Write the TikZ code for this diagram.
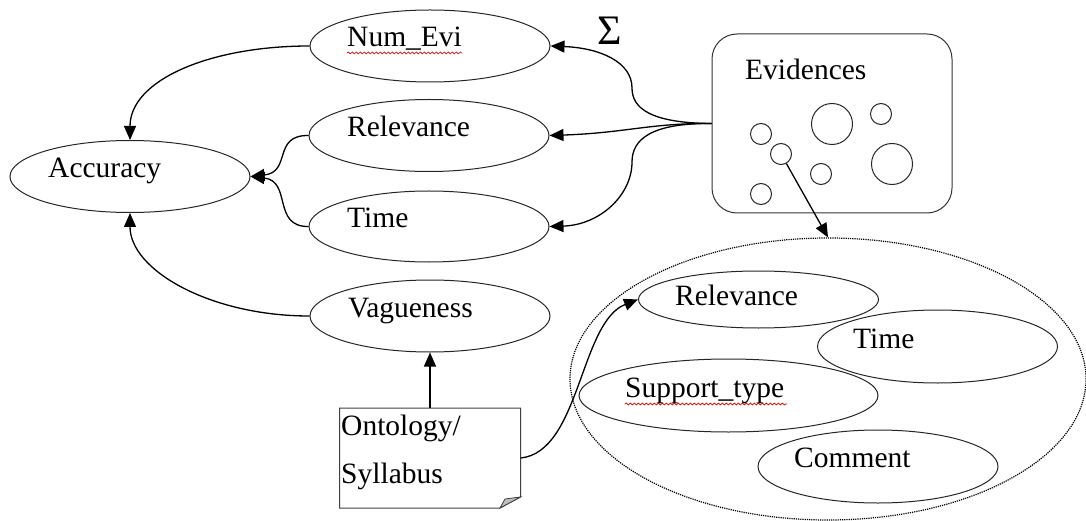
\documentclass[tikz,border=0pt]{standalone}
\usepackage{fontspec}
\setmainfont{Liberation Serif}
\usetikzlibrary{arrows.meta,decorations.pathmorphing,shapes.geometric}
\begin{document}
\begin{tikzpicture}[x=1pt,y=-1pt,
  ell/.style={draw=black!85, line width=1pt, ellipse, minimum width=240pt, minimum height=72pt, inner sep=0pt},
  lbl/.style={anchor=base west, inner sep=0pt, font=\fontsize{29.5}{34}\selectfont},
  arr/.style={draw=black, line width=1.3pt, -{Triangle[length=14pt,width=12pt]}},
  dot/.style={draw=black!85, line width=1pt, circle, inner sep=0pt},
  squig/.style={draw=red!85!black, line width=0.7pt, decorate, decoration={snake, amplitude=1pt, segment length=4pt}}]
\useasboundingbox (0,0) rectangle (1086,521);

% left ellipses
\node[ell] (numevi) at (430,46) {};
\node[ell] (rel) at (429,135.5) {};
\node[ell, minimum height=71pt] (time) at (429,226.5) {};
\node[ell] (acc) at (130,176.5) {};
\node[ell] (vag) at (430,316) {};

% big dotted ellipse and inner ellipses
\node[draw=black, line width=1.2pt, dash pattern=on 1.2pt off 1pt, ellipse, minimum width=516pt, minimum height=282pt, inner sep=0pt] (big) at (828,379) {};
\node[ell, minimum height=57pt] (irel) at (758.5,299.5) {};
\node[ell, minimum height=73pt] (itime) at (937.5,346.5) {};
\node[ell, minimum width=299pt, minimum height=73pt] (isup) at (728.5,395.5) {};
\node[ell, minimum height=73pt] (icom) at (878,466.5) {};

% evidences box
\node[draw=black!80, line width=1pt, rounded corners=25pt, minimum width=240pt, minimum height=179pt, inner sep=0pt] (evid) at (832,123.5) {};
\node[dot, minimum size=21pt] (c1) at (761,134) {};
\node[dot, minimum size=41pt] (c2) at (832,124) {};
\node[dot, minimum size=21pt] (c3) at (881,114) {};
\node[dot, minimum size=21pt] (c4) at (781,154) {};
\node[dot, minimum size=21pt] (c5) at (821,174) {};
\node[dot, minimum size=41pt] (c6) at (892,164) {};
\node[dot, minimum size=21pt] (c7) at (761,194) {};

% ontology note
\node[minimum width=181pt, minimum height=100pt, inner sep=0pt] (onto) at (430,458) {};
\draw[line width=1pt, black!75] (339.5,408) -- (520.5,408) -- (520.5,497) -- (500,508) -- (339.5,508) -- cycle;
\filldraw[fill=black!25, draw=black!75, line width=0.8pt] (520.5,497) -- (500,508) -- (505,499) -- cycle;

% labels
\node[lbl] (tnum) at (347,46.5) {Num\_Evi};
\node[lbl] (trel) at (347,137) {Relevance};
\node[lbl] (ttime) at (347,228) {Time};
\node[lbl] (tacc) at (48,178) {Accuracy};
\node[lbl] (tvag) at (348,317) {Vagueness};
\node[lbl] (tirel) at (675,305) {Relevance};
\node[lbl] (titime) at (853,348) {Time};
\node[lbl] (tisup) at (625,397) {Support\_type};
\node[lbl] (ticom) at (794,467) {Comment};
\node[lbl] (tevid) at (745,80) {Evidences};
\node[lbl] (tonto1) at (341,435) {Ontology/};
\node[lbl] (tonto2) at (341,483) {Syllabus};
\node[anchor=base, inner sep=0pt, font=\fontsize{42}{42}\selectfont] (sigma) at (610,45) {Σ};

% spell-check squiggles
\draw[squig] (347,53) -- (462,53);
\draw[squig] (625,404) -- (787,404);

% connectors
\draw[arr] (numevi.west) .. controls (210,46) and (130,80) .. (acc.north);
\draw[arr] (rel.west) .. controls (272,135) and (292,172) .. (acc.east);
\draw[arr] (time.west) .. controls (272,227) and (292,181) .. (acc.east);
\draw[arr] (vag.west) .. controls (210,316) and (130,270) .. (acc.south);

\draw[arr] (evid.west) .. controls (650,123) and (632,108) .. (632,88) .. controls (632,62) and (600,48) .. (numevi.east);
\draw[arr] (evid.west) .. controls (650,123) and (625,133) .. (rel.east);
\draw[arr] (evid.west) .. controls (650,123) and (632,140) .. (632,162) .. controls (632,195) and (600,225) .. (time.east);

\draw[arr] (c4) -- (big.north);
\draw[arr] (onto.north) -- (vag.south);
\draw[arr] (onto.east) .. controls (580,452) and (580,322) .. (irel.west);
\end{tikzpicture}
\end{document}
